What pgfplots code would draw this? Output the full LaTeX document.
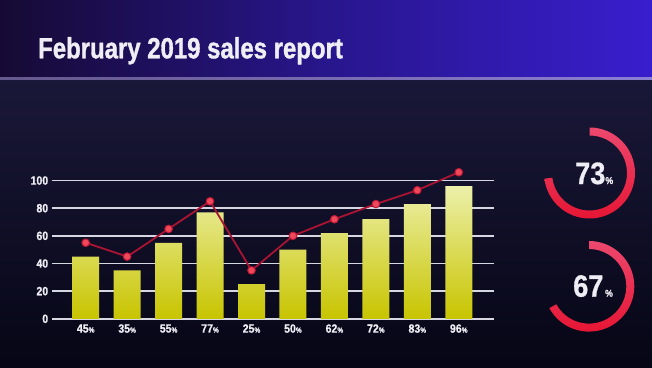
\documentclass[border=0pt]{standalone}
\usepackage{pgfplots}
\pgfplotsset{compat=1.18}
\usepackage{fontspec}
\setmainfont{Liberation Sans}
\newfontfamily\titlefont[FakeStretch=0.82,FakeBold=1.2]{Liberation Sans}
\newfontfamily\condfont[FakeStretch=0.88,FakeBold=0.8]{Liberation Sans}
\definecolor{bodytop}{RGB}{26,24,56}
\definecolor{bodybot}{RGB}{6,6,22}
\definecolor{hdrL}{RGB}{22,10,52}
\definecolor{hdrM}{RGB}{40,22,140}
\definecolor{hdrR}{RGB}{56,30,205}
\definecolor{lineL}{RGB}{100,88,140}
\definecolor{lineR}{RGB}{140,126,210}
\definecolor{titlecol}{RGB}{240,238,245}
\definecolor{gridcol}{RGB}{215,215,225}
\definecolor{bartop}{RGB}{236,240,170}
\definecolor{barbot}{RGB}{200,196,0}
\definecolor{linecol}{RGB}{170,20,50}
\definecolor{markfill}{RGB}{240,72,90}
\definecolor{markdraw}{RGB}{190,25,55}
\definecolor{gtop}{RGB}{236,72,110}
\definecolor{gbot}{RGB}{230,22,52}
\newcommand{\pc}{{\fontsize{7.5}{7.5}\selectfont\%}}
\begin{document}
\begin{tikzpicture}[x=1bp,y=1bp]
\path[use as bounding box] (0,0) rectangle (652,367);
\shade[top color=bodytop, bottom color=bodybot] (0,0) rectangle (652,289);
\shade[left color=hdrL, right color=hdrR, middle color=hdrM] (0,289) rectangle (652,367);
\shade[left color=lineL, right color=lineR] (0,287.3) rectangle (652,289.8);
\node[anchor=base west, inner sep=0, text=titlecol, font=\titlefont\bfseries\fontsize{29.3}{30}\selectfont] at (38,308.7) {February 2019 sales report};

\begin{axis}[at={(51.7bp,48.2bp)}, anchor=south west, scale only axis,
  width=442.3bp, height=152.1bp,
  xmin=-0.82, xmax=9.85, ymin=0, ymax=110,
  ytick={0,20,40,60,80,100},
  xtick={0,1,2,3,4,5,6,7,8,9},
  xticklabels={45\pc,35\pc,55\pc,77\pc,25\pc,50\pc,62\pc,72\pc,83\pc,96\pc},
  axis line style={draw=none},
  major tick length=0pt,
  ymajorgrids,
  major grid style={gridcol, line width=1.4bp},
  clip=false,
  ticklabel style={text=titlecol, font=\condfont\bfseries\fontsize{12}{12}\selectfont},
  xticklabel style={yshift=-2bp},
  /pgf/number format/assume math mode=true,
]
\addplot[ybar, bar width=27bp, bar shift=0pt, draw=none, top color=bartop, bottom color=barbot]
  coordinates {(0,45) (1,35) (2,55) (3,77) (4,25) (5,50) (6,62) (7,72) (8,83) (9,96)};
\addplot[linecol, line width=1.8bp, mark=*, mark size=3.8bp,
  mark options={fill=markfill, draw=markdraw, line width=1bp}]
  coordinates {(0,55) (1,45) (2,65) (3,85) (4,35) (5,60) (6,72) (7,83) (8,93) (9,106)};
\end{axis}

\shade[top color=gtop, bottom color=gbot]
  ([shift={(90:45.5)}]589.5,194) arc[start angle=90, end angle=-172.8, radius=45.5]
  -- ([shift={(-172.8:37.5)}]589.5,194) arc[start angle=-172.8, end angle=90, radius=37.5] -- cycle;
\shade[top color=gtop, bottom color=gbot]
  ([shift={(90:45.3)}]589,80.7) arc[start angle=90, end angle=-151.2, radius=45.3]
  -- ([shift={(-151.2:37.3)}]589,80.7) arc[start angle=-151.2, end angle=90, radius=37.3] -- cycle;
\node[anchor=base west, inner sep=0, text=titlecol, font=\condfont\bfseries\fontsize{31}{31}\selectfont] at (575,183) {73{\fontsize{10}{10}\selectfont\%}};
\node[anchor=base west, inner sep=0, text=titlecol, font=\condfont\bfseries\fontsize{31}{31}\selectfont] at (573,70.3) {67{\fontsize{10}{10}\selectfont\,\%}};
\end{tikzpicture}
\end{document}
